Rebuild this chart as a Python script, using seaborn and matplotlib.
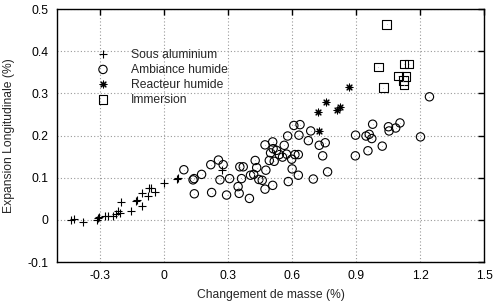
import matplotlib
matplotlib.use("Agg")
import matplotlib.pyplot as plt
import seaborn as sns
import pandas as pd

# Sous aluminium (+)
alu_x = [-0.433, -0.422, -0.378, -0.311, -0.306, -0.302, -0.276, -0.261, -0.238,
         -0.225, -0.214, -0.206, -0.201, -0.155, -0.131, -0.125, -0.102, -0.102,
         -0.076, -0.070, -0.058, -0.041, 0.0, 0.062, 0.066, 0.273]
alu_y = [0.000, 0.002, -0.006, 0.000, 0.004, 0.008, 0.010, 0.010, 0.010,
         0.014, 0.020, 0.017, 0.042, 0.020, 0.044, 0.047, 0.034, 0.065,
         0.057, 0.075, 0.075, 0.067, 0.088, 0.097, 0.100, 0.118]

# Ambiance humide (o)
amb_x = [0.094, 0.137, 0.142, 0.177, 0.143, 0.220, 0.256, 0.278, 0.224, 0.263,
         0.308, 0.294, 0.356, 0.372, 0.364, 0.348, 0.353, 0.401, 0.406, 0.421,
         0.428, 0.435, 0.445, 0.461, 0.478, 0.474, 0.510, 0.474, 0.510, 0.512,
         0.528, 0.500, 0.494, 0.517, 0.541, 0.564, 0.556, 0.575, 0.580, 0.599,
         0.601, 0.583, 0.609, 0.614, 0.630, 0.633, 0.638, 0.630, 0.677, 0.688,
         0.700, 0.728, 0.756, 0.744, 0.767, 0.898, 0.897, 0.947, 0.962, 0.974,
         0.978, 0.956, 1.023, 1.052, 1.055, 1.086, 1.106, 1.202, 1.244]
amb_y = [0.119, 0.095, 0.098, 0.108, 0.062, 0.131, 0.142, 0.131, 0.065, 0.095,
         0.098, 0.059, 0.126, 0.126, 0.098, 0.079, 0.063, 0.051, 0.106, 0.108,
         0.141, 0.124, 0.096, 0.094, 0.118, 0.073, 0.082, 0.178, 0.185, 0.169,
         0.165, 0.159, 0.141, 0.139, 0.155, 0.177, 0.149, 0.156, 0.199, 0.144,
         0.121, 0.091, 0.224, 0.155, 0.155, 0.201, 0.226, 0.106, 0.188, 0.211,
         0.097, 0.177, 0.183, 0.152, 0.114, 0.201, 0.152, 0.199, 0.203, 0.193,
         0.227, 0.164, 0.175, 0.221, 0.211, 0.218, 0.230, 0.197, 0.292]

# Reacteur humide (*)
rea_x = [0.866, 0.760, 0.723, 0.812, 0.827, 0.728]
rea_y = [0.316, 0.280, 0.256, 0.261, 0.267, 0.212]

# Immersion (square)
imm_x = [1.044, 1.005, 1.028, 1.125, 1.149, 1.098, 1.135, 1.122, 1.125]
imm_y = [0.464, 0.363, 0.314, 0.370, 0.370, 0.341, 0.340, 0.330, 0.320]

labels = ["Sous aluminium", "Ambiance humide", "Reacteur humide", "Immersion"]
xticks = [-0.3, 0, 0.3, 0.6, 0.9, 1.2, 1.5]
xticklabels = ["-0.3", "0", "0.3", "0.6", "0.9", "1.2", "1.5"]
yticks = [-0.1, 0, 0.1, 0.2, 0.3, 0.4, 0.5]
yticklabels = ["-0.1", "0", "0.1", "0.2", "0.3", "0.4", "0.5"]

sns.set_style("white")
plt.rcParams["font.family"] = ["Liberation Sans", "DejaVu Sans"]
FS = 8.7
plt.rcParams["font.size"] = FS

fig = plt.figure(figsize=(4.94, 3.03), dpi=100)
ax = fig.add_axes([0.1154, 0.135, 0.8646, 0.835])

df_alu = pd.DataFrame({"x": alu_x, "y": alu_y})
df_amb = pd.DataFrame({"x": amb_x, "y": amb_y})
df_rea = pd.DataFrame({"x": rea_x, "y": rea_y})
df_imm = pd.DataFrame({"x": imm_x, "y": imm_y})

sns.scatterplot(data=df_alu, x="x", y="y", marker="+", s=40, color="black",
                linewidth=0.8, ax=ax, label=labels[0], zorder=3)
sns.scatterplot(data=df_amb, x="x", y="y", marker="o", s=36, facecolor="none",
                edgecolor="black", linewidth=0.8, ax=ax, label=labels[1], zorder=3)
sns.scatterplot(data=df_rea, x="x", y="y", marker=(8, 2, 0), s=24, color="black",
                linewidth=0.8, ax=ax, label=labels[2], zorder=3)
sns.scatterplot(data=df_imm, x="x", y="y", marker="s", s=38, facecolor="none",
                edgecolor="black", linewidth=0.8, ax=ax, label=labels[3], zorder=3)
# center dots (gnuplot style)
sns.scatterplot(data=df_amb, x="x", y="y", marker=".", s=1, color="#333333",
                linewidth=0, ax=ax, legend=False, zorder=4)
sns.scatterplot(data=df_imm, x="x", y="y", marker=".", s=1, color="#333333",
                linewidth=0, ax=ax, legend=False, zorder=4)

ax.set_xlim(-0.5, 1.5)
ax.set_ylim(-0.1, 0.5)
ax.set_xticks(xticks)
ax.set_xticklabels(xticklabels)
ax.set_yticks(yticks)
ax.set_yticklabels(yticklabels)
ax.set_xlabel("Changement de masse (%)", fontsize=FS, labelpad=5)
ax.set_ylabel("Expansion Longitudinale (%)", fontsize=FS, labelpad=9)

ax.grid(True, linestyle=(0, (1, 2)), color="#999999", linewidth=0.8)
ax.tick_params(direction="in", length=4, width=1, top=True, right=True,
               labelsize=FS, colors="black", pad=6)
for s in ax.spines.values():
    s.set_color("black")
    s.set_linewidth(1.0)

leg = ax.legend(loc="upper left", bbox_to_anchor=(0.068, 0.863), frameon=False,
                fontsize=FS, handletextpad=1.3, labelspacing=0.25,
                borderaxespad=0)

fig.savefig("out.png", dpi=100)
